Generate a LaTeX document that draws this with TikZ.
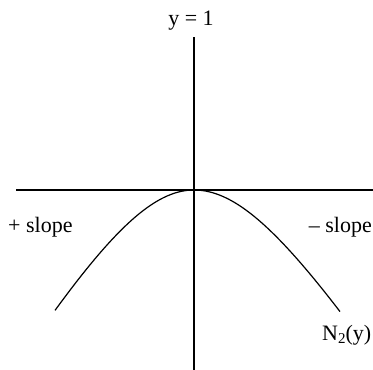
\documentclass[tikz,border=0pt]{standalone}
\usepackage{fontspec}
\setmainfont{Liberation Serif}
\begin{document}
\begin{tikzpicture}[x=1pt,y=-1pt,
  axis/.style={line width=1.2pt},
  curve/.style={line width=1.2pt},
  lab/.style={inner sep=0pt,font=\fontsize{22}{26}\selectfont}]
\useasboundingbox (0,0) rectangle (373,370);
\coordinate (vtop) at (194,37);
\coordinate (vbot) at (194,370);
\coordinate (hleft) at (16,190);
\coordinate (hright) at (373,190);
\coordinate (vertex) at (194,190);
\draw[axis] (vtop) -- (vbot);
\draw[axis] (hleft) -- (hright);
\draw[curve] plot[domain=-139:0,samples=60] ({194+\x},{190+169*(sqrt(1+(\x/100)^2)-1)})
  -- plot[domain=0:146,samples=60] ({194+\x},{190+158*(sqrt(1+(\x/100)^2)-1)});
\node[lab,anchor=base] (ylab) at (191,25) {y = 1};
\node[lab,anchor=base west] (plus) at (8,232) {+ slope};
\node[lab,anchor=base east] (minus) at (372,232) {– slope};
\node[lab,anchor=base west] (n2) at (322,340) {N\raisebox{-0.3ex}{\fontsize{15}{18}\selectfont 2}(y)};
\end{tikzpicture}
\end{document}
